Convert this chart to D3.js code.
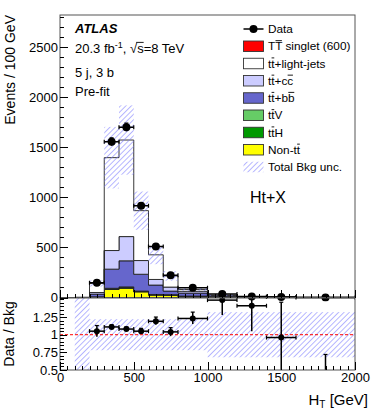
<!DOCTYPE html>
<html lang="en">
<head>
<meta charset="UTF-8">
<title>HT pre-fit, 5 j 3 b</title>
<style>
  body { margin: 0; background: #fff; }
  svg { display: block; font-family: "Liberation Sans", Arial, Helvetica, sans-serif; }
  .axis path { display: none; }
  .axis line { stroke: #000; stroke-width: 1px; shape-rendering: crispEdges; }
  .axis text { font-size: 13px; fill: #000; }
</style>
</head>
<body>
<script src="https://d3js.org/d3.v7.min.js"></script>
<script>
// HT bins in GeV, contents are events / 100 GeV
var binEdges = [100, 200, 300, 400, 500, 600, 700, 800, 1000, 1200, 1400, 1600, 2000];

// background stack, bottom to top
var nonTT   = [0.1, 5, 80, 92, 56, 24, 22, 10, 3, 1, 0.5, 0.1];
var ttH     = [0, 1, 6, 7, 4, 3, 3, 2, 1, 0.3, 0.2, 0.05];
var ttV     = [0, 1, 6, 7, 4, 3, 3, 2, 1, 0.3, 0.2, 0.05];
var ttbb    = [0.1, 27, 191, 260, 168, 94, 36, 30, 8, 2.5, 1.3, 0.2];
var ttcc    = [0.1, 16, 186, 242, 137, 56, 40, 18, 5, 1.5, 0.8, 0.15];
var ttlight = [0.2, 90, 927, 964, 498, 246, 111, 18, 5, 1.4, 1.0, 0.15];

// relative total background uncertainty per bin
var bkgUnc = [1.0, 0.22, 0.22, 0.22, 0.22, 0.22, 0.22, 0.22, 0.32, 0.32, 0.32, 0.32];

// data
var dataVals = [null, 147, 1555, 1700, 915, 510, 222, 97, 34, 10, 3.85, 0];
var dataErr  = [null, 12, 39, 41, 30, 23, 15, 7, 4, 2.2, 1.4, 0.5];

// data / bkg
var ratioVals  = [null, 1.05, 1.11, 1.08, 1.05, 1.19, 1.04, 1.23, 1.49, 1.41, 0.96, 0];
var ratioErrLo = [null, 0.08, 0.03, 0.03, 0.04, 0.05, 0.06, 0.08, 0.21, 0.36, 0.5, 0];
var ratioErrHi = [null, 0.08, 0.03, 0.03, 0.04, 0.06, 0.06, 0.09, 0.3, 0.4, 0.5, 0.72];

var xTicks = [0, 500, 1000, 1500, 2000];
var yTicks = [0, 500, 1000, 1500, 2000, 2500];
var rTicks = [0.5, 0.75, 1, 1.25];

var keys = ["nonTT", "ttH", "ttV", "ttbb", "ttcc", "ttlight"];
var series = { nonTT: nonTT, ttH: ttH, ttV: ttV, ttbb: ttbb, ttcc: ttcc, ttlight: ttlight };
var colors = { nonTT: "#ffff00", ttH: "#009900", ttV: "#66cc66", ttbb: "#6666cc", ttcc: "#ccccff", ttlight: "#ffffff" };

var legendLabels = ["Data", "TT\u0305 singlet (600)", "tt\u0305+light-jets", "tt\u0305+cc\u0305", "tt\u0305+bb\u0305",
                    "tt\u0305V", "tt\u0305H", "Non-tt\u0305", "Total Bkg unc."];
var legendColors = [null, "#ff0000", "#ffffff", "#ccccff", "#6666cc", "#66cc66", "#009900", "#ffff00", "hatch"];

var W = 374, H = 414;
var padL = 60, padR = 355, padT = 15, mainBottom = 297.5, ratioTop = 298, ratioBottom = 370;

var x = d3.scaleLinear().domain([0, 2000]).range([padL, padR]);
var y = d3.scaleLinear().domain([0, 2820]).range([mainBottom, padT]);
var yr = d3.scaleLinear().domain([0.5, 1.52]).range([ratioBottom, ratioTop]);

var svg = d3.select("body").append("svg").attr("width", W).attr("height", H);
var defs = svg.append("defs");

var pat = defs.append("pattern").attr("id", "hatch")
    .attr("patternUnits", "userSpaceOnUse")
    .attr("width", 3.8).attr("height", 3.8)
    .attr("patternTransform", "rotate(45)");
pat.append("line").attr("x1", 0).attr("y1", 0).attr("x2", 0).attr("y2", 3.8)
    .attr("stroke", "#7b7bff").attr("stroke-width", 1.1);

defs.append("clipPath").attr("id", "clipMain").append("rect")
    .attr("x", padL).attr("y", padT).attr("width", padR - padL).attr("height", mainBottom - padT + 4);
defs.append("clipPath").attr("id", "clipRatio").append("rect")
    .attr("x", padL).attr("y", ratioTop).attr("width", padR - padL).attr("height", ratioBottom - ratioTop);

// stack
var rows = binEdges.slice(0, -1).map(function (lo, i) {
  var r = { lo: lo, hi: binEdges[i + 1] };
  keys.forEach(function (k) { r[k] = series[k][i]; });
  return r;
});
var stacked = d3.stack().keys(keys)(rows);
var totals = rows.map(function (r) { return d3.sum(keys, function (k) { return r[k]; }); });

var area = d3.area()
    .x(function (d) { return x(d.x); })
    .y0(function (d) { return y(d.y0); })
    .y1(function (d) { return y(d.y1); });

var gMain = svg.append("g").attr("clip-path", "url(#clipMain)");

stacked.forEach(function (layer) {
  var pts = [];
  layer.forEach(function (d) {
    pts.push({ x: d.data.lo, y0: d[0], y1: d[1] });
    pts.push({ x: d.data.hi, y0: d[0], y1: d[1] });
  });
  gMain.append("path")
      .attr("d", area(pts))
      .attr("fill", colors[layer.key])
      .attr("stroke", "#222")
      .attr("stroke-width", 0.9)
      .attr("stroke-linejoin", "miter");
});

// uncertainty hatch on main
gMain.selectAll("rect.unc").data(rows).enter().append("rect")
    .attr("class", "unc")
    .attr("x", function (d) { return x(d.lo); })
    .attr("width", function (d) { return x(d.hi) - x(d.lo); })
    .attr("y", function (d, i) { return y(totals[i] * (1 + bkgUnc[i])); })
    .attr("height", function (d, i) { return y(Math.max(0, totals[i] * (1 - bkgUnc[i]))) - y(totals[i] * (1 + bkgUnc[i])); })
    .attr("fill", "url(#hatch)");

function drawPoints(g, vals, errLo, errHi, ys, r) {
  rows.forEach(function (d, i) {
    var v = vals[i];
    if (v === null) return;
    var xc = x((d.lo + d.hi) / 2), x0 = x(d.lo), x1 = x(d.hi);
    var yc = ys(v), ya = ys(v + errHi[i]), yb = ys(v - errLo[i]);
    g.append("line").attr("x1", x0).attr("x2", x1).attr("y1", yc).attr("y2", yc)
        .attr("stroke", "#000").attr("stroke-width", 1.5);
    [x0, x1].forEach(function (xx) {
      g.append("line").attr("x1", xx).attr("x2", xx).attr("y1", yc - 2).attr("y2", yc + 2)
          .attr("stroke", "#000").attr("stroke-width", 1.2);
    });
    g.append("line").attr("x1", xc).attr("x2", xc).attr("y1", ya).attr("y2", yb)
        .attr("stroke", "#000").attr("stroke-width", 1.5);
    g.append("line").attr("x1", xc - 2).attr("x2", xc + 2).attr("y1", ya).attr("y2", ya)
        .attr("stroke", "#000").attr("stroke-width", 1.2);
    g.append("circle").attr("cx", xc).attr("cy", yc).attr("r", r).attr("fill", "#000");
  });
}
drawPoints(gMain, dataVals, dataErr, dataErr, y, 4);

// ratio panel
var gRatio = svg.append("g").attr("clip-path", "url(#clipRatio)");
gRatio.selectAll("rect.unc").data(rows).enter().append("rect")
    .attr("x", function (d) { return x(d.lo); })
    .attr("width", function (d) { return x(d.hi) - x(d.lo); })
    .attr("y", function (d, i) { return yr(1 + bkgUnc[i]); })
    .attr("height", function (d, i) { return yr(1 - bkgUnc[i]) - yr(1 + bkgUnc[i]); })
    .attr("fill", "url(#hatch)");
gRatio.append("line").attr("x1", padL).attr("x2", padR).attr("y1", yr(1)).attr("y2", yr(1))
    .attr("stroke", "#ff0000").attr("stroke-width", 1).attr("stroke-dasharray", "3,2");
drawPoints(gRatio, ratioVals, ratioErrLo, ratioErrHi, yr, 3);

// frames
svg.append("rect").attr("x", padL).attr("y", padT).attr("width", padR - padL).attr("height", mainBottom - padT)
    .attr("fill", "none").attr("stroke", "#555").attr("stroke-width", 1);
svg.append("rect").attr("x", padL).attr("y", ratioTop).attr("width", padR - padL).attr("height", ratioBottom - ratioTop)
    .attr("fill", "none").attr("stroke", "#555").attr("stroke-width", 1);

// axes
function ax(gen, tx, ty) {
  return svg.append("g").attr("class", "axis").attr("transform", "translate(" + tx + "," + ty + ")").call(gen);
}
ax(d3.axisLeft(y).tickValues(d3.range(0, 2801, 100)).tickSize(-4).tickFormat(""), padL, 0);
ax(d3.axisLeft(y).tickValues(yTicks).tickSize(-8).tickPadding(2).tickFormat(d3.format("d")), padL, 0);
ax(d3.axisBottom(x).tickValues(d3.range(0, 2001, 50)).tickSize(-4).tickFormat(""), 0, mainBottom);
ax(d3.axisBottom(x).tickValues(xTicks).tickSize(-8).tickFormat(""), 0, mainBottom);

ax(d3.axisLeft(yr).tickValues(d3.range(0.5, 1.51, 0.05)).tickSize(-3.5).tickFormat(""), padL, 0);
ax(d3.axisLeft(yr).tickValues(rTicks).tickSize(-7).tickPadding(2).tickFormat(d3.format("")), padL, 0);
ax(d3.axisBottom(x).tickValues(d3.range(0, 2001, 50)).tickSize(-4).tickFormat(""), 0, ratioBottom);
ax(d3.axisBottom(x).tickValues(xTicks).tickSize(-8).tickPadding(3).tickFormat(d3.format("d")), 0, ratioBottom);

// axis titles
svg.append("text").attr("transform", "translate(15," + padT + ") rotate(-90)")
    .attr("text-anchor", "end").attr("font-size", 14).text("Events / 100 GeV");
svg.append("text").attr("transform", "translate(13.5," + yr(1.01) + ") rotate(-90)")
    .attr("text-anchor", "middle").attr("font-size", 14).text("Data / Bkg");
var xt = svg.append("text").attr("x", 368).attr("y", 405).attr("text-anchor", "end").attr("font-size", 15);
xt.append("tspan").text("H");
xt.append("tspan").attr("dy", 3).attr("font-size", 10).text("T");
xt.append("tspan").attr("dy", -3).text(" [GeV]");

// text with overlined characters marked by U+0305
function barText(g, str, tx, ty, size) {
  var clean = "", bars = [];
  for (var i = 0; i < str.length; i++) {
    if (str[i] === "\u0305") { bars.push(clean.length - 1); continue; }
    clean += str[i];
  }
  var t = g.append("text").attr("x", tx).attr("y", ty).attr("font-size", size).text(clean);
  bars.forEach(function (k) {
    var b = t.node().getExtentOfChar(k);
    g.append("line").attr("x1", b.x + 0.3).attr("x2", b.x + b.width - 0.3)
        .attr("y1", ty - size * 0.83).attr("y2", ty - size * 0.83)
        .attr("stroke", "#000").attr("stroke-width", 0.9);
  });
  return t;
}

// labels
svg.append("text").attr("x", 75).attr("y", 33).attr("font-size", 13)
    .attr("font-weight", "bold").attr("font-style", "italic").text("ATLAS");
var lumi = svg.append("text").attr("x", 75).attr("y", 53).attr("font-size", 13);
lumi.append("tspan").text("20.3 fb");
lumi.append("tspan").attr("dy", -5).attr("font-size", 9).text("-1");
lumi.append("tspan").attr("dy", 5).text(", \u221As=8 TeV");
(function () {
  var full = lumi.node().textContent, k = full.indexOf("s=");
  var b = lumi.node().getExtentOfChar(k), br = lumi.node().getExtentOfChar(k - 1);
  svg.append("line").attr("x1", br.x + br.width - 1).attr("x2", b.x + b.width)
      .attr("y1", 53 - 10.6).attr("y2", 53 - 10.6).attr("stroke", "#000").attr("stroke-width", 0.9);
})();
svg.append("text").attr("x", 75).attr("y", 77).attr("font-size", 13).text("5 j, 3 b");
svg.append("text").attr("x", 75).attr("y", 96).attr("font-size", 13).text("Pre-fit");
svg.append("text").attr("x", 250).attr("y", 203).attr("font-size", 16).text("Ht+X");

// legend
var lg = svg.append("g");
var boxX = 243.5, boxW = 20, boxH = 10.5, row0 = 29, rowStep = 17.25;
legendLabels.forEach(function (lab, i) {
  var cy = row0 + i * rowStep;
  var c = legendColors[i];
  if (c === null) {
    lg.append("line").attr("x1", boxX).attr("x2", boxX + boxW).attr("y1", cy).attr("y2", cy)
        .attr("stroke", "#000").attr("stroke-width", 1.5);
    lg.append("circle").attr("cx", boxX + boxW / 2).attr("cy", cy).attr("r", 4).attr("fill", "#000");
  } else if (c === "hatch") {
    lg.append("rect").attr("x", boxX).attr("y", cy - boxH / 2).attr("width", boxW).attr("height", boxH)
        .attr("fill", "url(#hatch)");
  } else {
    lg.append("rect").attr("x", boxX).attr("y", cy - boxH / 2).attr("width", boxW).attr("height", boxH)
        .attr("fill", c).attr("stroke", "#333").attr("stroke-width", 0.9);
  }
  barText(lg, lab, 268, cy + 4.2, 11.8);
});
</script>
</body>
</html>
